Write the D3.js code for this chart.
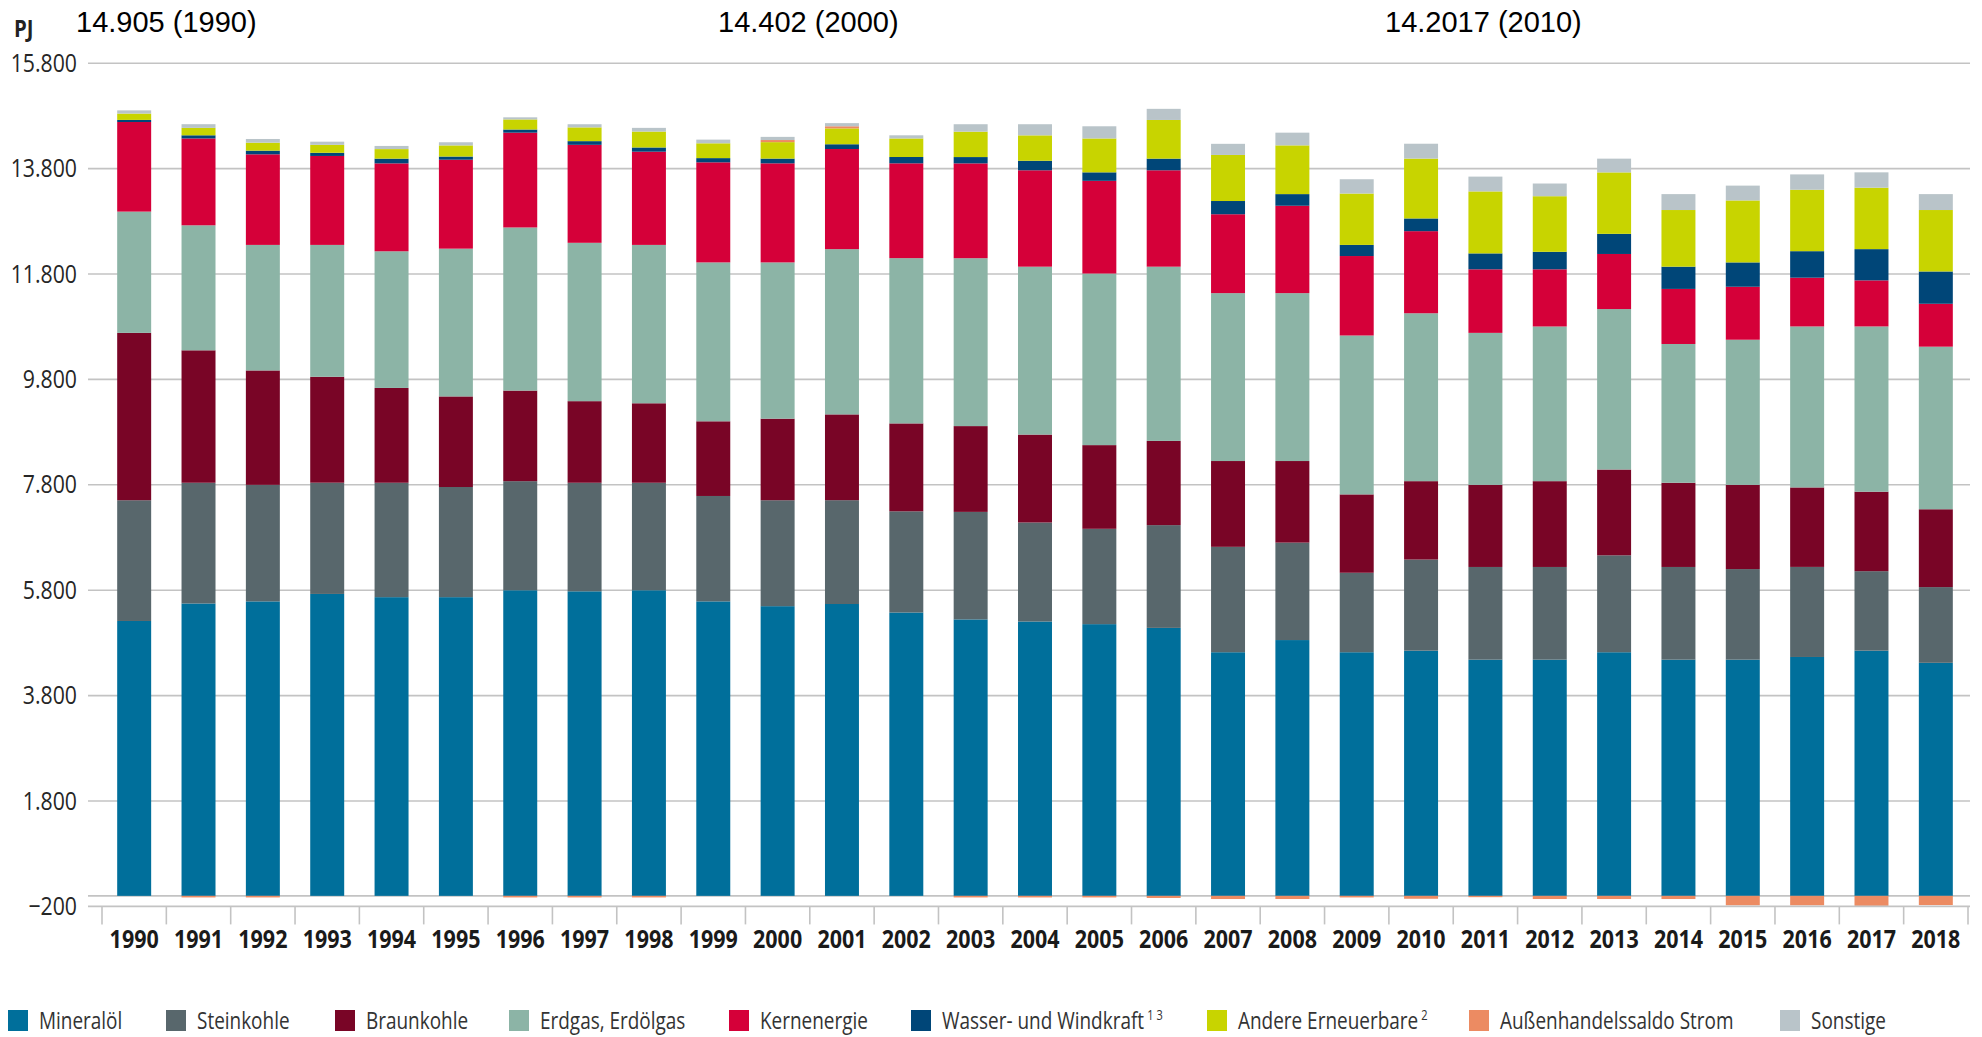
<!DOCTYPE html>
<html lang="de">
<head>
<meta charset="utf-8">
<title>Primärenergieverbrauch nach Energieträgern 1990–2018</title>
<script src="https://cdn.jsdelivr.net/npm/d3@7"></script>
<style>
  html, body { margin: 0; padding: 0; background: #fff; }
  svg { display: block; }
  .cond { font-family: "Open Sans", "Noto Sans", sans-serif; }
  .note { font-family: "Liberation Sans", Arial, sans-serif; }
</style>
</head>
<body>
<svg id="chart" width="1982" height="1037"></svg>
<script>
// ---- Daten (PJ) ----
const years = ["1990","1991","1992","1993","1994","1995","1996","1997","1998","1999",
               "2000","2001","2002","2003","2004","2005","2006","2007","2008","2009",
               "2010","2011","2012","2013","2014","2015","2016","2017","2018"];

const mineraloel   = [5216,5548,5588,5729,5668,5668,5799,5779,5799,5588,5497,5538,5377,5246,5206,5156,5085,4623,4854,4623,4653,4482,4482,4623,4482,4482,4533,4653,4422];
const steinkohle   = [2291,2291,2211,2111,2171,2090,2070,2060,2040,2000,2010,1970,1920,2040,1879,1809,1950,2000,1849,1508,1729,1759,1759,1839,1759,1719,1709,1508,1437];
const braunkohle   = [3176,2513,2171,2010,1799,1719,1719,1548,1508,1417,1548,1628,1668,1628,1668,1588,1598,1628,1548,1487,1487,1558,1628,1628,1598,1598,1508,1508,1477];
const erdgas       = [2301,2372,2382,2502,2593,2804,3095,3005,3005,3015,2965,3136,3136,3186,3186,3256,3306,3186,3186,3015,3186,2884,2935,3045,2633,2754,3055,3136,3085];
const kernenergie  = [1700,1648,1719,1688,1668,1688,1799,1859,1769,1899,1880,1900,1799,1799,1829,1759,1829,1497,1658,1508,1558,1206,1085,1045,1045,1005, 925, 874, 814];
const wasserWind   = [  40,  60,  70,  60,  90,  60,  60,  70,  80,  80,  90,  90, 120, 120, 181, 161, 221, 251, 221, 211, 241, 302, 332, 382, 422, 462, 503, 593, 613];
const andereErn    = [ 120, 141, 151, 151, 181, 211, 191, 261, 302, 281, 312, 301, 352, 482, 482, 643, 734, 874, 925, 975,1136,1176,1055,1166,1075,1176,1166,1166,1166];
const stromSaldo   = [   0, -30, -30,   0,   0,   0, -30, -30, -30,   0,  40,  40,   0, -30, -30, -30, -40, -60, -60, -30, -55, -25, -60, -60, -60,-180,-180,-190,-175];
const sonstige     = [  61,  70,  70,  60,  60,  60,  40,  60,  70,  70,  60,  60,  60, 141, 211, 231, 211, 211, 241, 271, 282, 281, 241, 261, 302, 281, 291, 291, 302];

const seriesKeys   = ["mineraloel","steinkohle","braunkohle","erdgas","kernenergie","wasserWind","andereErn","stromSaldo","sonstige"];
const seriesLabels = ["Mineralöl","Steinkohle","Braunkohle","Erdgas, Erdölgas","Kernenergie","Wasser- und Windkraft","Andere Erneuerbare","Außenhandelssaldo Strom","Sonstige"];
const seriesNotes  = ["","","","","","1 3","2","",""];
const seriesColors = ["#006f9b","#58676c","#790526","#8cb4a6","#d50039","#004678","#c8d400","#ec8b62","#b9c4c9"];

const yTickValues  = [15800,13800,11800,9800,7800,5800,3800,1800,-200];
const gridValues   = [15800,13800,11800,9800,7800,5800,3800,1800,0];
const noteLabels   = ["14.905 (1990)","14.402 (2000)","14.2017 (2010)"];

// ---- Tabelle für den Stapel ----
const columns = { mineraloel, steinkohle, braunkohle, erdgas, kernenergie, wasserWind, andereErn, stromSaldo, sonstige };
const table = years.map((year, i) => {
  const row = { year };
  seriesKeys.forEach(k => { row[k] = columns[k][i]; });
  return row;
});

// ---- Layout ----
const plotLeft = 88, plotRight = 1970;
const NARROW = 0.85;   // schmale Laufweite für Achsen- und Legendentexte
const svg = d3.select("#chart");

// horizontal stauchen, Ankerpunkt bleibt an seiner x-Position
function narrow(sel, s = NARROW) {
  sel.each(function () {
    const t = d3.select(this);
    const ax = +t.attr("x") || 0;
    t.attr("transform", `translate(${ax},0) scale(${s},1) translate(${-ax},0)`);
  });
}

const deDE = d3.formatLocale({ decimal: ",", thousands: ".", grouping: [3], currency: ["", " €"] });
const fmt = deDE.format(",d");

const x = d3.scaleBand()
  .domain(years)
  .range([102, 1968])
  .paddingInner(0.472)
  .paddingOuter(0.236);

const y = d3.scaleLinear()
  .domain([-200, 15800])
  .range([906.4, 63.2]);

const color = d3.scaleOrdinal().domain(seriesKeys).range(seriesColors);

// Gitterlinien
svg.append("g")
  .selectAll("line")
  .data(gridValues)
  .join("line")
  .attr("x1", plotLeft).attr("x2", plotRight)
  .attr("y1", d => y(d)).attr("y2", d => y(d))
  .attr("stroke", "#c3c3c3")
  .attr("stroke-width", 1.6);

// Gestapelte Säulen
const stacked = d3.stack()
  .keys(seriesKeys)
  .offset(d3.stackOffsetDiverging)(table);

svg.append("g")
  .selectAll("g")
  .data(stacked)
  .join("g")
  .attr("fill", d => color(d.key))
  .selectAll("rect")
  .data(d => d)
  .join("rect")
  .attr("x", d => x(d.data.year))
  .attr("width", x.bandwidth())
  .attr("y", d => y(Math.max(d[0], d[1])))
  .attr("height", d => Math.abs(y(d[0]) - y(d[1])));

// Y-Achse
const yAxis = svg.append("g")
  .attr("class", "cond")
  .attr("transform", `translate(${plotLeft},0)`)
  .call(d3.axisLeft(y).tickValues(yTickValues).tickFormat(fmt).tickSize(0).tickPadding(11));
yAxis.select(".domain").remove();
yAxis.selectAll("text")
  .attr("font-size", 25)
  .attr("fill", "#262626")
  .attr("font-family", null)
  .call(narrow);

// X-Achse: Linie bei -200, Trennstriche zwischen den Jahren
const xAxisY = y(-200);
svg.append("line")
  .attr("x1", plotLeft).attr("x2", plotRight)
  .attr("y1", xAxisY).attr("y2", xAxisY)
  .attr("stroke", "#c3c3c3").attr("stroke-width", 1.6);

const step = x.step();
const x0 = x.range()[0];
svg.append("g")
  .selectAll("line")
  .data(d3.range(years.length + 1))
  .join("line")
  .attr("x1", i => x0 + i * step).attr("x2", i => x0 + i * step)
  .attr("y1", xAxisY).attr("y2", xAxisY + 18)
  .attr("stroke", "#c3c3c3").attr("stroke-width", 1.6);

const xAxis = svg.append("g")
  .attr("class", "cond")
  .attr("transform", `translate(0,${xAxisY})`)
  .call(d3.axisBottom(x).tickSize(0).tickPadding(24));
xAxis.select(".domain").remove();
xAxis.selectAll("text")
  .attr("font-size", 25)
  .attr("font-weight", "bold")
  .attr("fill", "#1a1a1a")
  .attr("font-family", null)
  .call(narrow, 0.86);

// Einheit
svg.append("text")
  .attr("class", "cond")
  .attr("x", 14).attr("y", 37)
  .attr("font-size", 24).attr("font-weight", "bold")
  .attr("fill", "#222")
  .text("PJ")
  .call(narrow);

// Summenangaben oben
const noteX = [76, 718, 1385];
svg.append("g")
  .selectAll("text")
  .data(noteLabels)
  .join("text")
  .attr("class", "note")
  .attr("x", (d, i) => noteX[i])
  .attr("y", 32)
  .attr("font-size", 29)
  .attr("fill", "#000")
  .text(d => d);

// Legende
const legendX = [8, 166, 335, 509, 729, 911, 1207, 1469, 1780];
const legend = svg.append("g").attr("class", "cond");
const items = legend.selectAll("g")
  .data(seriesKeys)
  .join("g")
  .attr("transform", (d, i) => `translate(${legendX[i]},1010)`);
items.append("rect")
  .attr("width", 20).attr("height", 21)
  .attr("fill", d => color(d));
const labels = items.append("text")
  .attr("x", 31).attr("y", 19)
  .attr("font-size", 24)
  .attr("fill", "#333");
labels.append("tspan").text((d, i) => seriesLabels[i]);
labels.filter((d, i) => seriesNotes[i] !== "")
  .append("tspan")
  .attr("dx", 4).attr("dy", -9)
  .attr("font-size", 14)
  .text(d => seriesNotes[seriesKeys.indexOf(d)]);
labels.call(narrow, 0.79);
</script>
</body>
</html>
